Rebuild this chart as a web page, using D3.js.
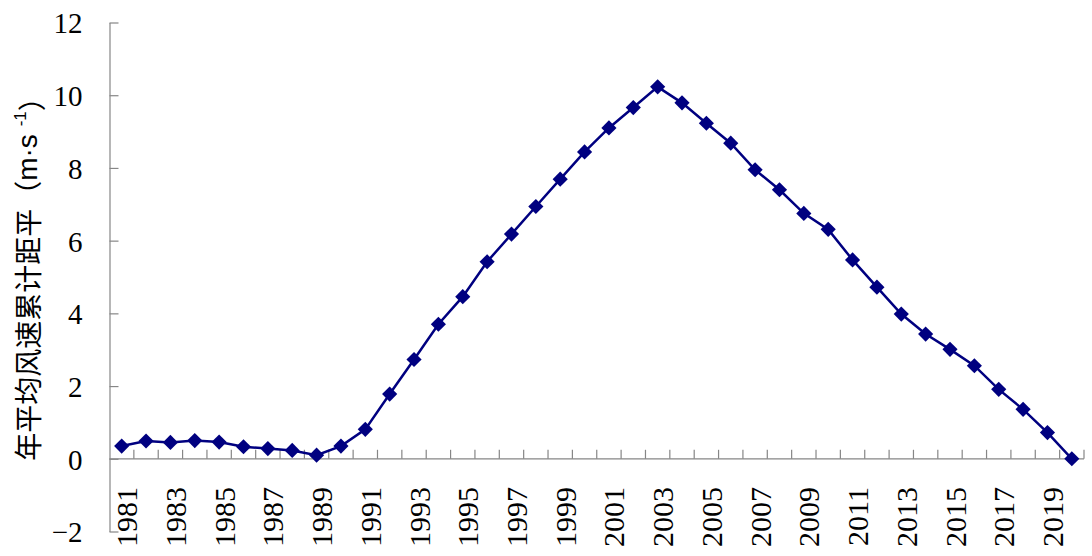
<!DOCTYPE html>
<html>
<head>
<meta charset="utf-8">
<script src="https://cdn.jsdelivr.net/npm/d3@7"></script>
<style>
  html, body { margin: 0; padding: 0; background: #fff; }
  svg { display: block; }
</style>
</head>
<body>
<svg width="1092" height="556"></svg>
<script>
// 数据：年份和风速累计距平
const years = d3.range(1981, 2021);
const anomaly = [
  0.35, 0.49, 0.45, 0.50, 0.46, 0.33, 0.28, 0.23, 0.10, 0.35,
  0.81, 1.78, 2.73, 3.70, 4.46, 5.42, 6.18, 6.94, 7.69, 8.44,
  9.10, 9.66, 10.23, 9.79, 9.23, 8.68, 7.95, 7.40, 6.75, 6.31,
  5.47, 4.72, 3.98, 3.43, 3.01, 2.56, 1.91, 1.36, 0.72, 0.00
];
const yTicks = [-2, 0, 2, 4, 6, 8, 10, 12];
const xLabels = years.filter(y => y % 2 === 1);

const svg = d3.select("svg");
const axisColor = "#868686";
const numFont = '"Liberation Serif", monospace';

const x = d3.scaleBand()
  .domain(years)
  .range([109.5, 1084])
  .paddingInner(0)
  .paddingOuter(0);

const y = d3.scaleLinear()
  .domain([-2, 12])
  .range([531.5, 22.5]);

// 纵轴
const yAxis = svg.append("g")
  .attr("transform", "translate(109.5,0)")
  .call(d3.axisLeft(y).tickValues(yTicks).tickSizeInner(-9).tickSizeOuter(0).tickPadding(27));
yAxis.select(".domain").attr("stroke", axisColor).attr("stroke-width", 1.2);
yAxis.selectAll(".tick line").attr("stroke", axisColor).attr("stroke-width", 1.2);
yAxis.selectAll(".tick text")
  .attr("dy", "0.36em")
  .attr("fill", "#000")
  .style("font-family", numFont)
  .style("font-size", "29px");

// 横轴 (在 0 处)
const y0 = y(0);
svg.append("line")
  .attr("x1", x.range()[0])
  .attr("x2", x.range()[1])
  .attr("y1", y0)
  .attr("y2", y0)
  .attr("stroke", axisColor)
  .attr("stroke-width", 1.2);

const tickPos = years.map(d => x(d)).concat([x.range()[1]]).slice(1);
svg.append("g").selectAll("line")
  .data(tickPos)
  .join("line")
  .attr("x1", d => d)
  .attr("x2", d => d)
  .attr("y1", y0)
  .attr("y2", y0 - 9)
  .attr("stroke", axisColor)
  .attr("stroke-width", 1.2);

// 横轴标签 (竖排)
svg.append("g").selectAll("text")
  .data(xLabels)
  .join("text")
  .attr("transform", d => `translate(${x(d) + x.bandwidth() / 2 + 5},487) rotate(-90)`)
  .attr("text-anchor", "end")
  .attr("dominant-baseline", "central")
  .style("font-family", numFont)
  .style("font-size", "30px")
  .text(d => d);

// 折线
const line = d3.line()
  .x((d, i) => x(years[i]) + x.bandwidth() / 2)
  .y(d => y(d));

svg.append("path")
  .datum(anomaly)
  .attr("d", line)
  .attr("fill", "none")
  .attr("stroke", "#000080")
  .attr("stroke-width", 2.5);

// 菱形标记
const diamond = d3.symbol().type(d3.symbolSquare).size(115);
svg.append("g").selectAll("path")
  .data(anomaly)
  .join("path")
  .attr("d", diamond)
  .attr("transform", (d, i) => `translate(${x(years[i]) + x.bandwidth() / 2},${y(d)}) rotate(45)`)
  .attr("fill", "#000080");

// 纵轴标题
const title = svg.append("text")
  .attr("transform", "translate(27,272) rotate(-90)")
  .attr("text-anchor", "middle")
  .attr("dominant-baseline", "central")
  .style("font-family", '"Noto Sans CJK SC"')
  .style("font-size", "28px")
  .attr("fill", "#000");
title.append("tspan").text("年平均风速累计距平（");
title.append("tspan").style("font-family", '"Liberation Sans"').text("m·s ");
title.append("tspan").attr("dy", "-0.4em").style("font-family", '"Liberation Sans"').style("font-size", "17px").text("-1");
title.append("tspan").attr("dy", "0.4em").text("）");
</script>
</body>
</html>
